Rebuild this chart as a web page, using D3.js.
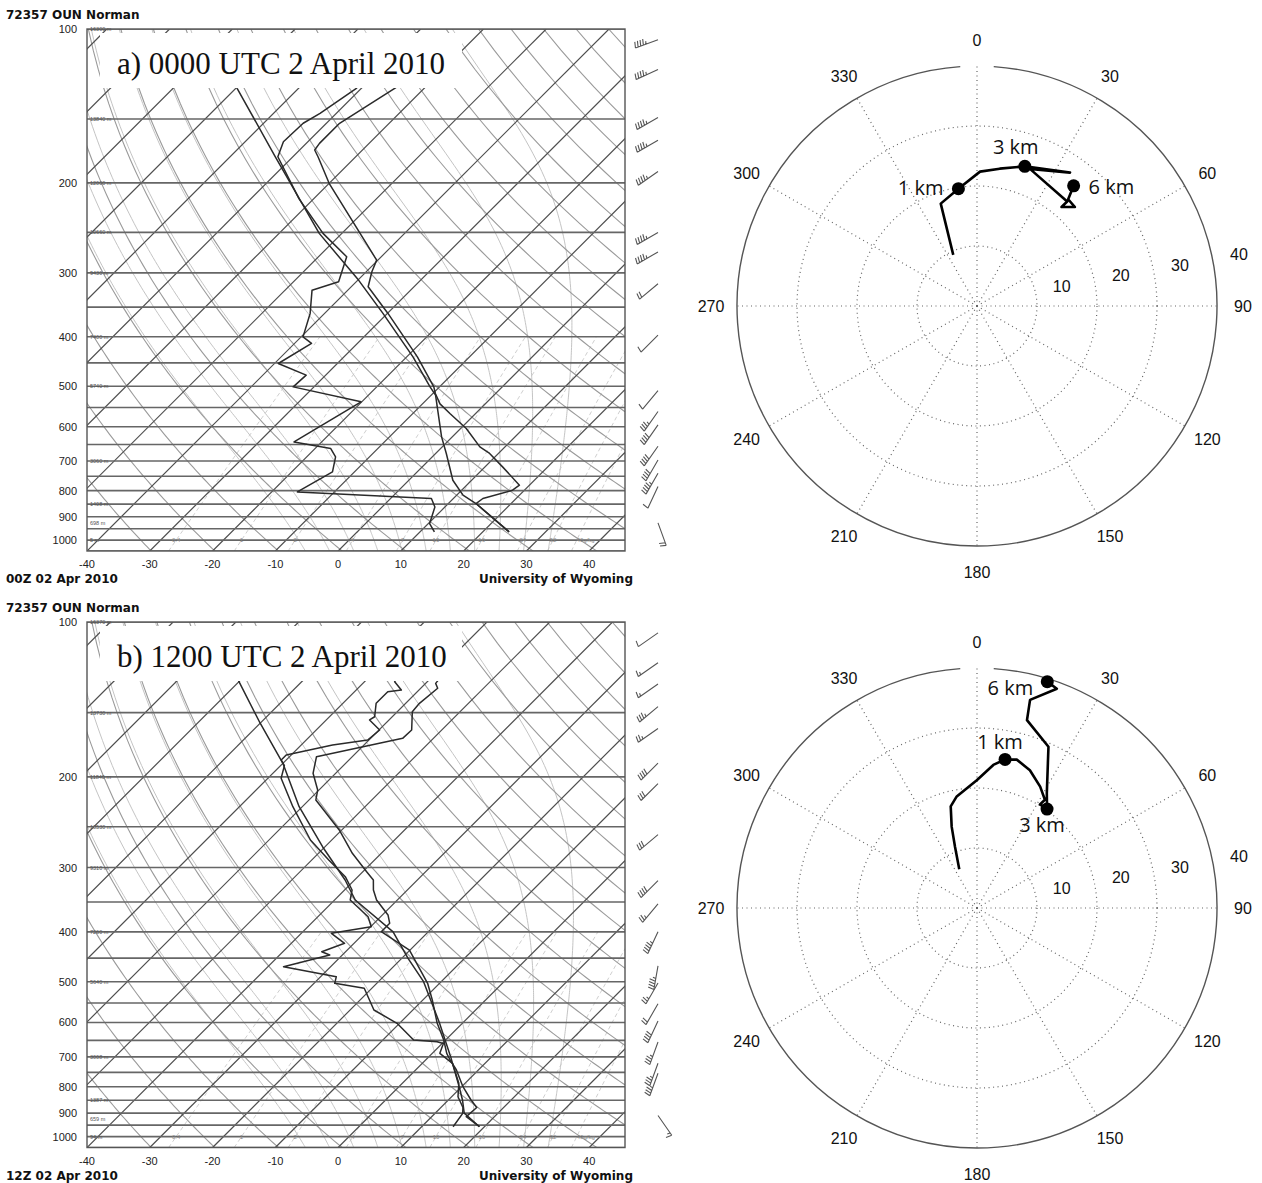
<!DOCTYPE html>
<html>
<head>
<meta charset="utf-8">
<script src="https://d3js.org/d3.v7.min.js"></script>
<style>
  body { margin: 0; background: #ffffff; }
  svg text { font-family: 'Liberation Sans', Arial, sans-serif; fill: #111; }
  .hdr { font-family: 'DejaVu Sans', sans-serif; font-weight: bold; font-size: 12px; }
  .plab, .tlab { font-size: 11px; fill: #222; }
  .hlab { font-size: 5.5px; fill: #555; }
  .mlab { font-size: 6px; fill: #888; }
  .title { font-family: 'Liberation Serif', 'Times New Roman', serif; font-size: 31px; }
  .isobar { stroke: #666; stroke-width: 1.6; }
  .iso { fill: none; stroke: #4d4d4d; stroke-width: 1.2; }
  .dry { fill: none; stroke: #9a9a9a; stroke-width: 1.1; }
  .moist { fill: none; stroke: #c4c4c4; stroke-width: 1; }
  .mix { fill: none; stroke: #cfcfcf; stroke-width: 1; stroke-dasharray: 4 3; }
  .snd { fill: none; stroke: #2a2a2a; stroke-width: 1.5; stroke-linejoin: round; }
  .frame { fill: none; stroke: #555; stroke-width: 1.4; }
  .barb { fill: none; stroke: #555; stroke-width: 1.1; }
  .dot { fill: none; stroke: #666; stroke-width: 1.2; stroke-dasharray: 1 3.5; }
  .rim { fill: none; stroke: #555; stroke-width: 1.4; }
  .alab, .slab { font-size: 16px; fill: #111; }
  .trace { fill: none; stroke: #000; stroke-width: 2.6; stroke-linejoin: round; }
  .km { font-family: 'Open Sans', sans-serif; font-size: 20px; fill: #111; }
</style>
</head>
<body>
<script>
// ---------- shared axis / grid values ----------
var presLabels = [100, 200, 300, 400, 500, 600, 700, 800, 900, 1000];
var tempLabels = [-40, -30, -20, -10, 0, 10, 20, 30, 40];
var isobarPres = d3.range(100, 1051, 50);
var isothermT = d3.range(-130, 50, 10);
var dryTheta = d3.range(220, 481, 10);
var moistTw = [-8, -4, 0, 4, 8, 12, 16, 20, 24, 28, 32];
var mixRatio = [0.4, 1, 2, 4, 7, 10, 16, 24, 32, 40];
var hgtPres = [100, 150, 200, 250, 300, 400, 500, 700, 850, 925, 1000];

// ---------- panel a: 0000 UTC 2 April 2010 ----------
var tempPresA = [963.5, 847.8, 828.9, 798.4, 780.6, 718.8, 676.7, 657.0, 604.7, 565.1, 541.3, 516.5, 501.3, 437.9, 360.1, 319.4, 298.5, 283.2, 200.4, 177.8, 172.5, 167.4, 152.9, 130.6, 118];
var tempA = [24.2, 14.4, 14.7, 18.1, 18.4, 12.8, 8.6, 6.0, 0.9, -4.1, -7.2, -9.6, -10.9, -18.3, -29.9, -37.3, -39.1, -40.2, -60.0, -66.0, -67.6, -67.9, -67.9, -64.7, -63];
var dwptPresA = [963.5, 927.7, 861, 828.9, 804.7, 735.2, 687.1, 661.7, 642.3, 536.3, 501.3, 475.5, 451.2, 412.2, 400.2, 360.1, 324.3, 312.3, 279, 251.1, 215, 177.8, 166.2, 152.9, 146.2, 130.6, 118];
var dwptA = [12.3, 10.2, 8.4, 6.5, -15.9, -13.5, -15.4, -17.5, -24.4, -20.1, -33.3, -33.1, -39.4, -37.3, -39.7, -42.3, -45.7, -42.8, -45.5, -53.0, -62.3, -72.4, -73.9, -73.7, -72.6, -70.8, -70];
var parcelPresA = [963.5, 847.8, 816.6, 763.3, 676.7, 627.9, 520.4, 501.3, 437.9, 360.1, 309.9, 251.1, 177.8, 130.6, 112];
var parcelA = [24.2, 14.4, 11.0, 7.0, 1.7, -1.7, -9.3, -11.5, -19.0, -30.7, -39.9, -53.6, -72.8, -89.8, -97];
var hgtA = ['16300', '13840', '12000', '10660', '9430', '7400', '5740', '3060', '1408', '698', '5'];
var windPresA = [105, 120, 149, 165, 190, 250, 273, 315, 397, 510, 560, 595, 655, 697, 740, 785, 925];
var windDirA = [250, 245, 240, 240, 235, 240, 240, 230, 225, 220, 215, 215, 215, 210, 210, 205, 160];
var windSpdA = [45, 45, 45, 45, 45, 45, 45, 20, 10, 10, 35, 40, 40, 40, 45, 10, 20];
var hodoDirA = [335.1, 340.5, 351.0, 1.3, 9.4, 18.9, 34.9, 21.1, 40.8, 40.5, 44.7, 40.5, 38.8];
var hodoSpdA = [9.4, 18.1, 19.8, 22.4, 23.2, 24.6, 27.1, 24.5, 23.0, 21.7, 23.2, 23.4, 25.7];
var hodoMarkA = [2, 5, 12];

// ---------- panel b: 1200 UTC 2 April 2010 ----------
var tempPresB = [956.6, 914.6, 877.6, 848.8, 799.9, 742.3, 709.8, 688.9, 649, 602.3, 542.6, 503.6, 433.9, 399.8, 385, 370.9, 346.9, 331.7, 317.2, 305.6, 281.5, 253.6, 221.8, 212.1, 196.8, 182.7, 168.3, 162.1, 149.4, 143.9, 134.5, 131.6, 120];
var tempB = [19.2, 15.5, 15.7, 13.6, 10.2, 6.5, 3.9, 2.3, -0.3, -4.0, -8.5, -11.9, -20.1, -27.5, -27.5, -29.1, -33.3, -35.4, -37.0, -39.4, -44.6, -50.4, -58.9, -60.2, -63.6, -65.7, -54.9, -54.8, -57.6, -57.8, -57.3, -58.4, -59];
var dwptPresB = [956.6, 901, 877.6, 836.4, 787.8, 720.4, 688.9, 659.3, 653.9, 649, 602.3, 567.5, 515, 503.6, 488.9, 467.5, 443.7, 437.2, 421.1, 402.6, 390.9, 373.8, 346.9, 331.7, 312.5, 290, 265.2, 228.5, 201.2, 190.1, 185.4, 181.3, 173.4, 169.6, 162.1, 155, 152.8, 143.9, 136.6, 135.6, 130.6, 120];
var dwptB = [15.0, 14.4, 13.5, 11.0, 9.0, 4.8, 1.2, 0.2, -1.1, -5.1, -10.4, -16.2, -21.2, -26.7, -27.5, -37.5, -32.0, -33.8, -31.5, -35.2, -29.9, -32.0, -37.5, -38.8, -42.0, -47.3, -53.4, -61.5, -67.9, -69.4, -70.8, -70.8, -65.0, -60.2, -59.9, -63.1, -62.8, -64.7, -64.7, -62.8, -65.2, -66];
var parcelPresB = [956.6, 900, 850, 800, 700, 600, 500, 450.3, 400, 346.9, 317.2, 273.3, 228.5, 188.2, 157.3, 130.6, 115];
var parcelB = [19.2, 14.6, 12.3, 9.6, 3.5, -3.8, -12.8, -19.0, -25.6, -36.7, -41.5, -50.4, -60.5, -70.0, -80.0, -90.0, -96];
var hgtB = ['16370', '13730', '11840', '10530', '9310', '7260', '5640', '3008', '1387', '659', '94'];
var windPresB = [105, 120, 132, 146, 161, 188, 206, 259, 318, 353, 400, 466, 503, 552, 596, 655, 720, 753, 910];
var windDirB = [235, 235, 235, 230, 235, 225, 225, 230, 225, 220, 205, 190, 210, 210, 205, 200, 200, 200, 145];
var windSpdB = [10, 15, 15, 35, 25, 40, 30, 30, 40, 25, 45, 45, 25, 20, 40, 35, 35, 35, 15];
var hodoDirB = [335.4, 340.2, 342.7, 345.5, 349.7, 359.9, 6.5, 10.7, 15.0, 21.0, 27.5, 32.1, 31.3, 35.3, 31.3, 23.9, 14.9, 14.3, 20.0, 17.25];
var hodoSpdB = [7.1, 10.8, 14.2, 17.5, 18.9, 21.3, 24.0, 25.2, 25.6, 24.6, 22.8, 21.3, 20.2, 20.2, 22.4, 29.4, 32.4, 35.8, 38.9, 39.5];
var hodoMarkB = [7, 13, 19];

// hodograph axes
var ringVals = [10, 20, 30];
var spokeAngles = d3.range(0, 360, 30);
var speedLabels = [10, 20, 30, 40];
var kmLabels = ['1 km', '3 km', '6 km'];

var svg = d3.select('body').append('svg').attr('width', 1262).attr('height', 1183);

// thermodynamics for the background lines
function dewFromMix(w, p) {
  var e = w * p / (622 + w), l = Math.log(e / 6.112);
  return 243.5 * l / (17.67 - l);
}
function moistLapse(p, T) {
  var Rd = 287.04, cp = 1005.7, Lv = 2.501e6, eps = 0.622;
  var tc = T - 273.15;
  var es = 6.112 * Math.exp(17.67 * tc / (tc + 243.5));
  var rs = eps * es / (p - es);
  return ((Rd * T + Lv * rs) / p) / (cp + Lv * Lv * rs * eps / (Rd * T * T));
}
function moistCurve(tw) {
  var out = [[1000, tw]];
  [[5, 1050], [-5, 100]].forEach(function (s) {
    var p = 1000, T = tw + 273.15, pts = [];
    while ((s[0] > 0 && p < s[1]) || (s[0] < 0 && p > s[1])) {
      var k1 = moistLapse(p, T), k2 = moistLapse(p + s[0], T + k1 * s[0]);
      T += (k1 + k2) / 2 * s[0]; p += s[0];
      pts.push([p, T - 273.15]);
    }
    out = s[0] > 0 ? pts.reverse().concat(out) : out.concat(pts);
  });
  return out;
}

// wind barb: staff points toward where the wind comes from, feathers at the far end
function barb(g, x, y, dir, spd) {
  var a = dir * Math.PI / 180, sx = Math.sin(a), sy = -Math.cos(a);
  var px = -sy, py = sx, L = 24, fl = 6, step = 2.8;
  var path = d3.path();
  path.moveTo(x, y); path.lineTo(x + L * sx, y + L * sy);
  var rest = Math.round(spd / 5) * 5, pos = L;
  while (rest >= 10) {
    var fx = x + pos * sx, fy = y + pos * sy;
    path.moveTo(fx, fy); path.lineTo(fx + fl * px - 1.5 * sx, fy + fl * py - 1.5 * sy);
    pos -= step; rest -= 10;
  }
  if (rest >= 5) {
    if (pos === L) pos -= step;
    var hx = x + pos * sx, hy = y + pos * sy;
    path.moveTo(hx, hy); path.lineTo(hx + fl / 2 * px - 0.8 * sx, hy + fl / 2 * py - 0.8 * sy);
  }
  g.append('path').attr('class', 'barb').attr('d', path.toString());
}

function drawSkewT(o) {
  var xL = 87, xR = 625;
  var y = d3.scaleLog().domain([100, 1050]).range([o.top, o.top + o.k * Math.log(10.5)]);
  var yB = y(1050);
  var xT = d3.scaleLinear().domain([-40, 45.7]).range([xL, xR]);
  var X = function (p, t) { return xT(t) + (yB - y(p)); };
  var line = d3.line().x(function (d) { return X(d[0], d[1]); }).y(function (d) { return y(d[0]); });

  var g = svg.append('g');
  g.append('clipPath').attr('id', 'clip-' + o.id)
    .append('rect').attr('x', xL).attr('y', o.top).attr('width', xR - xL).attr('height', yB - o.top);
  var plot = g.append('g').attr('clip-path', 'url(#clip-' + o.id + ')');
  var pres = d3.range(1050, 99, -10);

  plot.selectAll('.mix').data(mixRatio).join('path').attr('class', 'mix')
    .attr('d', function (w) { return line(d3.range(1050, 399, -25).map(function (p) { return [p, dewFromMix(w, p)]; })); });
  plot.selectAll('.moist').data(moistTw).join('path').attr('class', 'moist')
    .attr('d', function (tw) { return line(moistCurve(tw)); });
  plot.selectAll('.dry').data(dryTheta).join('path').attr('class', 'dry')
    .attr('d', function (th) { return line(pres.map(function (p) { return [p, th * Math.pow(p / 1000, 0.2857) - 273.15]; })); });
  plot.selectAll('.iso').data(isothermT).join('path').attr('class', 'iso')
    .attr('d', function (t) { return line([[1050, t], [100, t]]); });
  plot.selectAll('.isobar').data(isobarPres).join('line').attr('class', 'isobar')
    .attr('x1', xL).attr('x2', xR).attr('y1', function (p) { return y(p); }).attr('y2', function (p) { return y(p); });

  [[o.parcelPres, o.parcel], [o.dwptPres, o.dwpt], [o.tempPres, o.temp]].forEach(function (s) {
    plot.append('path').attr('class', 'snd').attr('d', line(d3.zip(s[0], s[1])));
  });

  // title sits on a white patch
  g.append('rect').attr('x', 100).attr('y', o.top + 4).attr('width', 362).attr('height', 55).attr('fill', '#fff');
  g.append('text').attr('class', 'title').attr('x', 117).attr('y', o.top + 45).text(o.title);
  g.append('rect').attr('class', 'frame').attr('x', xL).attr('y', o.top).attr('width', xR - xL).attr('height', yB - o.top);

  // height labels at mandatory levels
  g.selectAll('.hlab').data(d3.zip(hgtPres, o.hgt)).join('text').attr('class', 'hlab')
    .attr('x', 90).attr('y', function (d) { return y(d[0]) + 2; }).text(function (d) { return d[1] + ' m'; });
  // mixing ratio labels
  g.selectAll('.mlab').data(mixRatio).join('text').attr('class', 'mlab')
    .attr('x', function (w) { return X(1000, dewFromMix(w, 1000)); }).attr('y', y(1000) + 2)
    .attr('text-anchor', function (w, i) { return i === mixRatio.length - 1 ? 'start' : 'middle'; })
    .text(function (w, i) { return i === mixRatio.length - 1 ? w + 'g/kg' : w; });

  g.selectAll('.plab').data(presLabels).join('text').attr('class', 'plab')
    .attr('x', 77).attr('y', function (p) { return y(p) + 4; }).attr('text-anchor', 'end').text(function (p) { return p; });
  g.selectAll('.tlab').data(tempLabels).join('text').attr('class', 'tlab')
    .attr('x', function (t) { return xT(t); }).attr('y', yB + 17).attr('text-anchor', 'middle').text(function (t) { return t; });

  g.append('text').attr('class', 'hdr').attr('x', 6).attr('y', o.top - 10).text('72357 OUN Norman');
  g.append('text').attr('class', 'hdr').attr('x', 6).attr('y', yB + 32).text(o.date);
  g.append('text').attr('class', 'hdr').attr('x', 633).attr('y', yB + 32).attr('text-anchor', 'end').text('University of Wyoming');

  var bg = g.append('g');
  o.windPres.forEach(function (p, i) { barb(bg, 658, y(p), o.windDir[i], o.windSpd[i]); });
}

function drawHodo(o) {
  var R = 240;
  var r = d3.scaleLinear().domain([0, 40]).range([0, R]);
  var g = svg.append('g').attr('transform', 'translate(977,' + o.cy + ')');
  var rad = function (a) { return a * Math.PI / 180; };

  g.selectAll('.ring').data(ringVals).join('circle').attr('class', 'dot').attr('r', function (v) { return r(v); });
  g.selectAll('.spoke').data(spokeAngles).join('line').attr('class', 'dot')
    .attr('x1', 0).attr('y1', 0)
    .attr('x2', function (a) { return R * Math.sin(rad(a)); }).attr('y2', function (a) { return -R * Math.cos(rad(a)); });
  var rim = d3.path(), a0 = rad(-90 + 4), a1 = rad(270 - 4);
  rim.moveTo(R * Math.cos(a0), R * Math.sin(a0)); rim.arc(0, 0, R, a0, a1);
  g.append('path').attr('class', 'rim').attr('d', rim.toString());

  g.selectAll('.alab').data(spokeAngles).join('text').attr('class', 'alab')
    .attr('x', function (a) { return 266 * Math.sin(rad(a)); }).attr('y', function (a) { return -266 * Math.cos(rad(a)) + 6; })
    .attr('text-anchor', 'middle').text(function (a) { return a; });
  g.selectAll('.slab').data(speedLabels).join('text').attr('class', 'slab')
    .attr('x', function (v) { return (r(v) + 17) * Math.sin(rad(80)); })
    .attr('y', function (v) { return -(r(v) + 17) * Math.cos(rad(80)) - 1; })
    .text(function (v) { return v; });

  var pts = d3.zip(o.dir, o.spd);
  g.append('path').attr('class', 'trace')
    .attr('d', d3.lineRadial().angle(function (d) { return rad(d[0]); }).radius(function (d) { return r(d[1]); })(pts));
  var px = function (d) { return r(d[1]) * Math.sin(rad(d[0])); };
  var py = function (d) { return -r(d[1]) * Math.cos(rad(d[0])); };
  g.selectAll('.mk').data(o.marks).join('circle').attr('r', 6.5).attr('fill', '#000')
    .attr('cx', function (i) { return px(pts[i]); }).attr('cy', function (i) { return py(pts[i]); });
  g.selectAll('.km').data(o.marks).join('text').attr('class', 'km')
    .attr('x', function (i, j) { return px(pts[i]) + o.labOff[j][0]; })
    .attr('y', function (i, j) { return py(pts[i]) + o.labOff[j][1]; })
    .attr('text-anchor', function (i, j) { return o.labOff[j][2]; })
    .text(function (i, j) { return kmLabels[j]; });
}

drawSkewT({ id: 'a', top: 29, k: 222, title: 'a) 0000 UTC 2 April 2010', date: '00Z 02 Apr 2010',
  tempPres: tempPresA, temp: tempA, dwptPres: dwptPresA, dwpt: dwptA, parcelPres: parcelPresA, parcel: parcelA,
  hgt: hgtA, windPres: windPresA, windDir: windDirA, windSpd: windSpdA });
drawSkewT({ id: 'b', top: 622, k: 223.5, title: 'b) 1200 UTC 2 April 2010', date: '12Z 02 Apr 2010',
  tempPres: tempPresB, temp: tempB, dwptPres: dwptPresB, dwpt: dwptB, parcelPres: parcelPresB, parcel: parcelB,
  hgt: hgtB, windPres: windPresB, windDir: windDirB, windSpd: windSpdB });

drawHodo({ cy: 306, dir: hodoDirA, spd: hodoSpdA, marks: hodoMarkA,
  labOff: [[-15, 6, 'end'], [-9, -12, 'middle'], [15, 8, 'start']] });
drawHodo({ cy: 908, dir: hodoDirB, spd: hodoSpdB, marks: hodoMarkB,
  labOff: [[-5, -10, 'middle'], [-5, 23, 'middle'], [-14, 13, 'end']] });
</script>
</body>
</html>
